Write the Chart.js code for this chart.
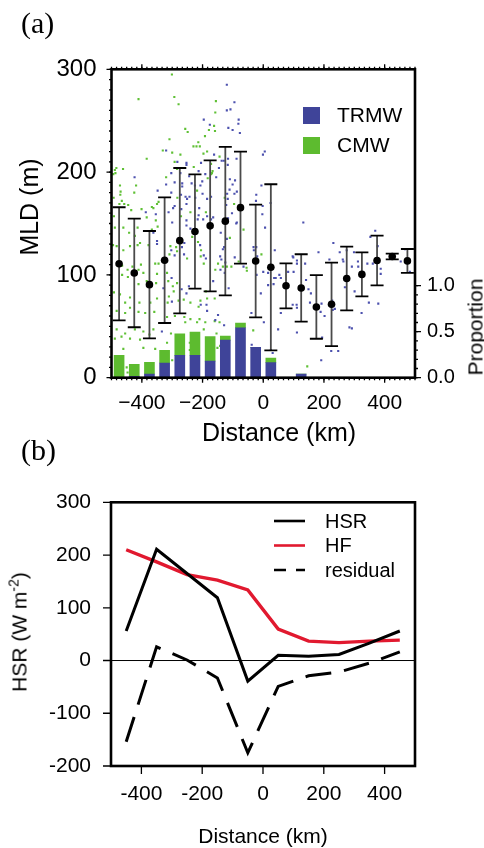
<!DOCTYPE html>
<html>
<head>
<meta charset="utf-8">
<script src="https://cdn.jsdelivr.net/npm/chart.js@4.4.1/dist/chart.umd.min.js"></script>
<style>
  html, body { margin: 0; padding: 0; background: #fff; }
  body { width: 484px; height: 848px; position: relative; overflow: hidden; font-family: 'Liberation Sans', Arial, sans-serif; color: #000; }
  .box { position: absolute; left: 0; width: 484px; }
  #boxA { top: 0; height: 440px; }
  #boxB { top: 440px; height: 408px; }
  .lbl { position: absolute; white-space: nowrap; line-height: 1; }
  .panel { font-family: 'Liberation Serif', 'Times New Roman', serif; font-size: 30px; }
  .ctr { transform: translate(-50%, -50%); }
  .rot { transform: translate(-50%, -50%) rotate(-90deg); }
  sup { font-size: 14px; vertical-align: 8px; line-height: 0; }
</style>
</head>
<body>
<div class="box" id="boxA"><canvas id="chartA"></canvas></div>
<div class="box" id="boxB"><canvas id="chartB"></canvas></div>

<div class="lbl panel" style="left:21px; top:8px;">(a)</div>
<div class="lbl panel" style="left:21px; top:435px;">(b)</div>
<div class="lbl rot" style="left:29px; top:207px; font-size:25px;">MLD (m)</div>
<div class="lbl ctr" style="left:279px; top:432px; font-size:25px;">Distance (km)</div>
<div class="lbl rot" style="left:475px; top:327px; font-size:21px;">Proportion</div>
<div class="lbl rot" style="left:19px; top:632px; font-size:21px;">HSR (W m<sup>-2</sup>)</div>
<div class="lbl ctr" style="left:263px; top:835px; font-size:21px;">Distance (km)</div>

<script>
// ---- panel (a): MLD per 50 km bin ----
const binCenters = [-475, -425, -375, -325, -275, -225, -175, -125, -75, -25,
                    25, 75, 125, 175, 225, 275, 325, 375, 425, 475];
const mldMean = [110.8, 101.9, 90.5, 114.3, 133.3, 142.2, 147.7, 152.3, 165.4, 113.5,
                 107.4, 89.4, 87.3, 68.8, 71.4, 96.5, 100.5, 114, 117.9, 113.6];
const mldErr = [55, 52.8, 52.2, 61.1, 70.7, 55.6, 63.7, 72.2, 54.5, 54.8,
                80.8, 21.9, 32.8, 30.9, 40.6, 31, 21.4, 24.2, 2.8, 11.6];
const trmwProp = [0, 0.014, 0.04, 0.16, 0.243, 0.243, 0.181, 0.409, 0.543, 0.33,
                  0.163, 0, 0.04, 0, 0, 0, 0, 0, 0, 0];
const cmwProp = [0.243, 0.131, 0.127, 0.137, 0.235, 0.253, 0.265, 0.044, 0.051, 0,
                 0.051, 0, 0, 0, 0, 0, 0, 0, 0, 0];

// individual profiles [distance km, MLD m]
const cmwPoints = [
  [-301,295],[-411,271],[-293,273],[-279,266],[-257,242],[-249,239],[-179,241],[-309,232],[-214,229],[-192,235],
  [-230,225],[-220,225],[-209,225],[-331,221],[-300,219],[-185,220],[-197,218],[-273,217],[-384,213],[-292,210],
  [-172,208],[-484,204],[-489,202],[-462,203],[-494,198],[-487,199],[-229,205],[-284,203],[-320,195],[-172,198],
  [-183,194],[-472,187],[-419,187],[-218,182],[-470,181],[-471,178],[-425,180],[-283,175],[-493,175],[-466,172],
  [-474,169],[-458,169],[-445,168],[-345,171],[-350,169],[-367,166],[-362,165],[-240,161],[-401,164],[-435,163],
  [-492,157],[-189,161],[-384,156],[-271,157],[-354,153],
  [-156,269],[-158,258],[-162,245],[-159,240],[-144,215],[-167,201],[-169,199],[-127,175],[-96,169],
  [-489,146],[-461,146],[-414,146],[-442,141],[-423,138],[-495,129],[-483,128],[-461,124],[-439,128],[-414,129],
  [-406,131],[-367,144],[-348,147],[-378,129],[-356,111],[-345,111],[-306,128],[-287,127],[-309,120],[-284,123],
  [-234,137],[-215,132],[-205,124],[-206,118],[-196,111],[-251,116],[-465,109],[-465,100],[-447,105],[-431,108],
  [-403,110],[-411,105],[-395,102],[-446,98],[-411,91],[-384,94],[-353,92],[-350,101],[-317,102],[-313,94],
  [-298,89],[-284,92],[-492,83],[-472,81],[-455,73],[-439,78],[-408,73],[-372,73],[-350,77],[-483,65],
  [-455,63],[-439,68],[-411,64],[-389,63],[-359,64],[-311,79],[-315,73],[-295,84],[-279,75],[-262,76],
  [-240,73],[-213,69],[-207,75],[-189,84],[-185,77],[-291,60],[-317,59],[-257,54],[-240,57],[-260,59],
  [-218,54],[-210,57],[-191,54],[-483,47],[-455,43],[-423,47],[-395,45],[-489,38],[-467,40],[-439,38],
  [-406,37],[-375,42],[-362,47],[-304,43],[-461,28],[-395,29],[-356,28],[-317,34],[-242,34],[-315,17],
  [-300,17],[-242,27],[-450,10],[-447,5],[-196,47],
  [-65,144],[-110,136],[-149,111],[-120,108],[-133,108],[-158,105],[-105,108],[-81,113],[-55,107],[-54,104],
  [-6,120],[-160,77],[-160,55],[-144,54],[-154,43],[-33,46],[-116,33],[-142,31],[-151,29],[145,11]
];
const trmwPoints = [
  [-196,251],[-176,246],[-320,221],[-283,210],[-253,209],[-253,207],[-205,209],[-213,201],[-303,199],[-273,199],
  [-244,196],[-424,195],[-191,198],[-201,191],[-267,189],[-236,189],[-225,187],[-207,187],[-292,190],[-320,188],
  [-267,186],[-200,179],[-348,182],[-303,180],[-271,178],[-256,176],[-243,176],[-251,174],[-224,175],[-185,174],
  [-172,176],[-292,167],[-297,165],[-253,169],[-211,165],[-270,164],[-312,161],[-387,161],[-354,159],[-213,158],
  [-198,154],[-185,157],[-300,151],[-216,154],[-253,153],[-172,154],
  [-120,285],[-95,268],[-120,260],[-108,261],[-81,251],[-82,247],[-115,243],[-101,241],[-77,238],[-162,217],
  [-137,211],[-130,211],[-116,213],[-88,213],[-117,207],[5,220],[-1,217],[-155,195],[-146,204],[-110,193],
  [-93,192],[-101,188],[-87,181],[-111,183],[-95,179],[-119,179],[-117,174],[-6,187],[-23,178],[-24,172],
  [-2,167],[24,170],[-122,168],[-103,160],[-3,159],[-165,156],[-116,155],[-87,151],[132,151],
  [-362,141],[-350,133],[-350,130],[-253,148],[-240,145],[-222,143],[-208,129],[-196,119],[-189,116],[-303,124],
  [-292,119],[-260,131],[-268,127],[-261,120],[-302,97],[-329,87],[-301,74],[-269,86],[-253,82],[-245,89],
  [-206,71],[-187,71],[-185,65],[-334,45],[-181,27],
  [-89,150],[-140,141],[-120,135],[-129,127],[-133,125],[-142,118],[-138,115],[-125,112],[-141,105],[-127,102],
  [-165,94],[-94,117],[-65,108],[-32,127],[-23,127],[-31,124],[-20,118],[6,146],[38,124],[0,103],
  [-22,100],[16,102],[36,97],[41,97],[34,91],[16,90],[53,100],[58,97],[82,103],[100,103],
  [97,118],[99,117],[111,114],[111,111],[138,111],[141,95],[149,86],[157,82],[154,73],[110,71],
  [97,71],[111,68],[58,63],[-8,82],[-114,87],[-39,63],[2,54],[-149,61],[-158,56],[-129,51],
  [49,47],[111,44],[-138,32],[-38,32],[31,24],[25,27],
  [369,143],[353,137],[231,131],[182,122],[218,115],[252,122],[262,115],[264,113],[275,124],[299,122],
  [312,113],[313,108],[292,108],[343,111],[361,111],[377,128],[387,106],[387,101],[453,113],[467,125],
  [483,103],[269,88],[301,84],[324,63],[348,73],[379,72],[227,75],[192,72],[189,64],[202,60],
  [229,66],[236,67],[284,49],[292,48],[224,26],[247,26],[191,17],[194,39]
];

const xTicksA = [-400, -200, 0, 200, 400];
const xTickLabelsA = ['\u2212400', '\u2212200', '0', '200', '400'];
const mldTicks = [0, 100, 200, 300];
const propTicks = [0, 0.5, 1.0];
const propTickLabels = ['0.0', '0.5', '1.0'];

// ---- panel (b): heat budget per 100 km bin ----
const distB = [-450, -350, -250, -150, -50, 50, 150, 250, 350, 450];
const hsrB = [56, 211, 165, 119, -39, 10, 8, 11.4, 33, 56];
const hfB = [210, 187, 163, 152.5, 134, 59.5, 36.7, 34, 36.7, 38.6];
const residB = [-154, 26, 1, -33, -175, -49, -29, -22, -5, 16.5];
const xTicksB = [-400, -200, 0, 200, 400];
const xTickLabelsB = ['-400', '-200', '0', '200', '400'];
const yTicksB = [-200, -100, 0, 100, 200, 300];
const yTickLabelsB = ['-200', '-100', '0', '100', '200', '300'];

const BLUE = '#3f4499', GREEN = '#5dbb2f';
const FONT = 'Liberation Sans';

function range(a, b, step) {
  const out = [];
  for (let v = a; v <= b + 1e-9; v += step) out.push(v);
  return out;
}

// box + outward tick marks drawn from the chart scales
const frame = {
  id: 'frame',
  beforeDatasetsDraw(chart, args, o) {
    if (o.zeroLine == null) return;
    const {ctx, chartArea: a} = chart;
    const py = chart.scales.y.getPixelForValue(o.zeroLine);
    ctx.save();
    ctx.strokeStyle = '#000';
    ctx.lineWidth = 1;
    ctx.beginPath(); ctx.moveTo(a.left, py); ctx.lineTo(a.right, py); ctx.stroke();
    ctx.restore();
  },
  afterDraw(chart, args, o) {
    const {ctx, chartArea: a} = chart;
    ctx.save();
    ctx.strokeStyle = '#000';
    ctx.lineWidth = 1.3;
    (o.ticks || []).forEach(t => {
      const s = chart.scales[t.axis];
      ctx.beginPath();
      t.values.forEach(v => {
        const p = s.getPixelForValue(v);
        if (t.side === 'left') { ctx.moveTo(a.left, p); ctx.lineTo(a.left - t.len, p); }
        if (t.side === 'right') { ctx.moveTo(a.right, p); ctx.lineTo(a.right + t.len, p); }
        if (t.side === 'bottom') { ctx.moveTo(p, a.bottom); ctx.lineTo(p, a.bottom + t.len); }
        if (t.side === 'top') { ctx.moveTo(p, a.top); ctx.lineTo(p, a.top - t.len); }
      });
      ctx.stroke();
    });
    ctx.lineWidth = 2.6;
    ctx.strokeRect(a.left, a.top, a.right - a.left, a.bottom - a.top);
    ctx.restore();
  }
};

// error bars under the mean markers
const errorBars = {
  id: 'errorBars',
  beforeDatasetDraw(chart, args) {
    if (chart.data.datasets[args.index].label !== 'mean') return;
    const x = chart.scales.x, y = chart.scales.y, ctx = chart.ctx;
    ctx.save();
    binCenters.forEach((c, i) => {
      const px = x.getPixelForValue(c);
      const top = y.getPixelForValue(mldMean[i] + mldErr[i]);
      const bot = y.getPixelForValue(mldMean[i] - mldErr[i]);
      ctx.strokeStyle = '#4a4a4a';
      ctx.lineWidth = 1.8;
      ctx.beginPath(); ctx.moveTo(px, top); ctx.lineTo(px, bot); ctx.stroke();
      ctx.strokeStyle = '#000';
      ctx.lineWidth = 1.8;
      ctx.beginPath();
      ctx.moveTo(px - 6.5, top); ctx.lineTo(px + 6.5, top);
      ctx.moveTo(px - 6.5, bot); ctx.lineTo(px + 6.5, bot);
      ctx.stroke();
    });
    ctx.restore();
  }
};

const legendA = {
  id: 'legendA',
  afterDraw(chart) {
    const ctx = chart.ctx;
    const items = chart.data.datasets.filter(d => d.type === 'bar');
    ctx.save();
    ctx.font = '21px ' + FONT;
    ctx.textBaseline = 'middle';
    ctx.fillStyle = '#000';
    items.forEach((d, i) => {
      const y = 107 + i * 30;
      ctx.fillStyle = d.backgroundColor;
      ctx.fillRect(303, y, 17, 17);
      ctx.fillStyle = '#000';
      ctx.fillText(d.label, 337, y + 9);
    });
    ctx.restore();
  }
};

const legendB = {
  id: 'legendB',
  afterDraw(chart) {
    const ctx = chart.ctx;
    ctx.save();
    ctx.font = '20px ' + FONT;
    ctx.textBaseline = 'middle';
    chart.data.datasets.forEach((d, i) => {
      const y = 81 + i * 24.5;
      ctx.strokeStyle = d.borderColor;
      ctx.lineWidth = 2.6;
      ctx.setLineDash(d.borderDash ? [12, 10] : []);
      ctx.beginPath(); ctx.moveTo(274, y); ctx.lineTo(305, y); ctx.stroke();
      ctx.setLineDash([]);
      ctx.fillStyle = '#000';
      ctx.fillText(d.label, 325, y + 1);
    });
    ctx.restore();
  }
};

const noGrid = { display: false, drawTicks: false };

new Chart(document.getElementById('chartA'), {
  type: 'scatter',
  data: {
    datasets: [
      {
        label: 'CMW points',
        data: cmwPoints.map(p => ({x: p[0], y: p[1]})),
        backgroundColor: '#5fc035',
        pointStyle: 'rect',
        pointRadius: 1.5,
        pointBorderWidth: 0,
        order: 10
      },
      {
        label: 'TRMW points',
        data: trmwPoints.map(p => ({x: p[0], y: p[1]})),
        backgroundColor: '#4c51ae',
        pointStyle: 'rect',
        pointRadius: 1.5,
        pointBorderWidth: 0,
        order: 9
      },
      {
        type: 'bar',
        label: 'TRMW',
        yAxisID: 'yp',
        data: binCenters.map((c, i) => ({x: c, y: trmwProp[i]})),
        backgroundColor: BLUE,
        barThickness: 10,
        grouped: false,
        order: 5
      },
      {
        type: 'bar',
        label: 'CMW',
        yAxisID: 'yp',
        data: binCenters.map((c, i) => ({x: c, y: [trmwProp[i], trmwProp[i] + cmwProp[i]]})),
        backgroundColor: GREEN,
        barThickness: 10,
        grouped: false,
        order: 5
      },
      {
        label: 'mean',
        data: binCenters.map((c, i) => ({x: c, y: mldMean[i]})),
        backgroundColor: '#000',
        pointRadius: 3.8,
        pointBorderWidth: 0,
        order: 0
      }
    ]
  },
  options: {
    responsive: true,
    maintainAspectRatio: false,
    animation: false,
    layout: { padding: { top: 69.3, left: 0, right: 0, bottom: 0 } },
    plugins: {
      legend: { display: false },
      tooltip: { enabled: false },
      frame: {
        ticks: [
          { axis: 'y', side: 'left', values: mldTicks, len: 5 },
          { axis: 'y', side: 'left', values: range(0, 300, 10), len: 2.5 },
          { axis: 'x', side: 'bottom', values: xTicksA, len: 5 },
          { axis: 'x', side: 'bottom', values: range(-500, 500, 50 / 3), len: 2.5 },
          { axis: 'x', side: 'top', values: xTicksA, len: 5 },
          { axis: 'x', side: 'top', values: range(-500, 500, 50 / 3), len: 2.5 },
          { axis: 'yp', side: 'right', values: propTicks, len: 6 },
          { axis: 'yp', side: 'right', values: range(0, 1, 0.1), len: 3 }
        ]
      }
    },
    scales: {
      x: {
        type: 'linear', min: -500, max: 500, offset: false,
        grid: noGrid, border: { display: false },
        afterBuildTicks: s => { s.ticks = xTicksA.map(v => ({ value: v })); },
        afterFit: s => { s.height = 62.3; },
        ticks: {
          color: '#000', padding: 13, maxRotation: 0, autoSkip: false,
          font: { family: FONT, size: 21 },
          callback: (v, i) => xTickLabelsA[i]
        }
      },
      y: {
        type: 'linear', position: 'left', min: 0, max: 300,
        grid: noGrid, border: { display: false },
        afterBuildTicks: s => { s.ticks = mldTicks.map(v => ({ value: v })); },
        afterFit: s => { s.width = 111.5; },
        ticks: { color: '#000', padding: 15, font: { family: FONT, size: 24 } }
      },
      yp: {
        type: 'linear', position: 'right', min: 0, max: 3.352,
        grid: noGrid, border: { display: false },
        afterBuildTicks: s => { s.ticks = propTicks.map(v => ({ value: v })); },
        afterFit: s => { s.width = 69; },
        ticks: {
          color: '#000', padding: 12, font: { family: FONT, size: 20 },
          callback: (v, i) => propTickLabels[i]
        }
      }
    }
  },
  plugins: [errorBars, frame, legendA]
});

new Chart(document.getElementById('chartB'), {
  type: 'line',
  data: {
    datasets: [
      {
        label: 'HSR',
        data: distB.map((d, i) => ({x: d, y: hsrB[i]})),
        borderColor: '#000',
        borderWidth: 3,
        pointRadius: 0,
        tension: 0
      },
      {
        label: 'HF',
        data: distB.map((d, i) => ({x: d, y: hfB[i]})),
        borderColor: '#e1192f',
        borderWidth: 3.4,
        pointRadius: 0,
        tension: 0
      },
      {
        label: 'residual',
        data: distB.map((d, i) => ({x: d, y: residB[i]})),
        borderColor: '#000',
        borderWidth: 3,
        borderDash: [26, 13],
        pointRadius: 0,
        tension: 0
      }
    ]
  },
  options: {
    responsive: true,
    maintainAspectRatio: false,
    animation: false,
    layout: { padding: { top: 62.3, left: 0, right: 69, bottom: 0 } },
    plugins: {
      legend: { display: false },
      tooltip: { enabled: false },
      frame: {
        zeroLine: 0,
        ticks: [
          { axis: 'y', side: 'left', values: yTicksB, len: 8 },
          { axis: 'x', side: 'bottom', values: xTicksB, len: 8 }
        ]
      }
    },
    scales: {
      x: {
        type: 'linear', min: -500, max: 500, offset: false,
        grid: noGrid, border: { display: false },
        afterBuildTicks: s => { s.ticks = xTicksB.map(v => ({ value: v })); },
        afterFit: s => { s.height = 82; },
        ticks: {
          color: '#000', padding: 15.7, maxRotation: 0, autoSkip: false,
          font: { family: FONT, size: 21 },
          callback: (v, i) => xTickLabelsB[i]
        }
      },
      y: {
        type: 'linear', min: -200, max: 300,
        grid: noGrid, border: { display: false },
        afterBuildTicks: s => { s.ticks = yTicksB.map(v => ({ value: v })); },
        afterFit: s => { s.width = 111; },
        ticks: {
          color: '#000', padding: 20, font: { family: FONT, size: 21 },
          callback: (v, i) => yTickLabelsB[i]
        }
      }
    }
  },
  plugins: [frame, legendB]
});
</script>
</body>
</html>
